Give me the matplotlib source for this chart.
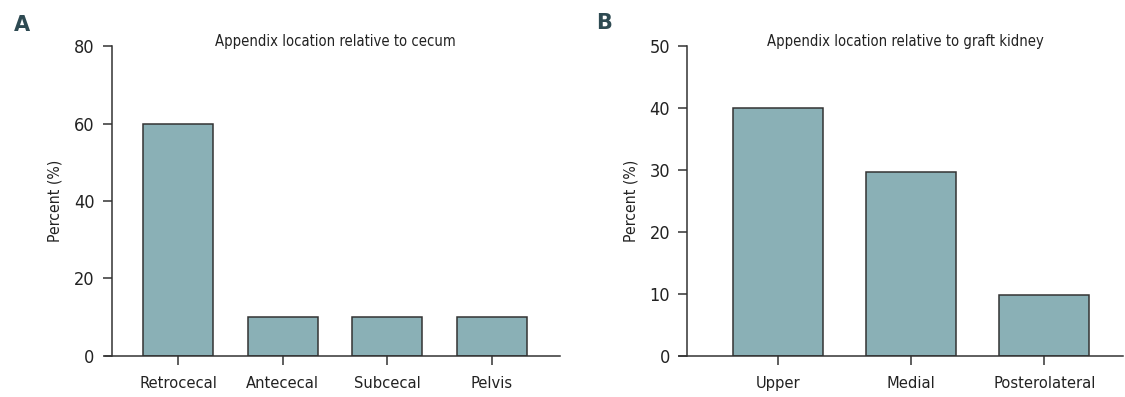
import matplotlib
matplotlib.use("Agg")
import matplotlib.pyplot as plt
import matplotlib.font_manager as fm

# the reference uses a condensed face; take the narrowest one installed
font_name, font_stretch = "DejaVu Sans", "normal"
for wanted in ["LiberationSansNarrow-Regular", "DejaVuSansCondensed.ttf", "Condensed-Regular", "Narrow"]:
    hits = [f for f in fm.fontManager.ttflist if wanted in f.fname and f.style == "normal"]
    if hits:
        font_name, font_stretch = hits[0].name, hits[0].stretch
        break
plt.rcParams['font.family'] = [font_name, 'DejaVu Sans']
plt.rcParams['font.stretch'] = font_stretch

# panel A: location relative to cecum
cecum_labels = ["Retrocecal", "Antececal", "Subcecal", "Pelvis"]
cecum_values = [60, 10, 10, 10]

# panel B: location relative to graft kidney
kidney_labels = ["Upper", "Medial", "Posterolateral"]
kidney_values = [40, 29.6, 9.8]

bar_color = "#8ab0b6"
edge_color = "#333333"
text_color = "#222222"

fig = plt.figure(figsize=(11.25, 3.97), dpi=100)
axA = fig.add_axes([0.0993, 0.1033, 0.3985, 0.7808])
axB = fig.add_axes([0.6111, 0.1033, 0.3871, 0.7808])


def draw_panel(ax, labels, values, title, ymax, step, xlim, width):
    x = range(len(labels))
    ax.bar(x, values, width=width, color=bar_color, edgecolor=edge_color, linewidth=1.1)
    ax.set_xticks(list(x))
    ax.set_xticklabels(labels)
    ax.set_yticks(range(0, ymax + 1, step))
    ax.set_ylim(0, ymax)
    ax.set_xlim(*xlim)
    for side in ["top", "right"]:
        ax.spines[side].set_visible(False)
    for side in ["left", "bottom"]:
        ax.spines[side].set_color(edge_color)
        ax.spines[side].set_linewidth(1.1)
    ax.spines["bottom"].set_bounds(xlim[0] - 0.06, xlim[1])
    ax.tick_params(axis="both", direction="out", length=6.5, width=1.1,
                   color=edge_color, labelcolor=text_color)
    ax.tick_params(axis="y", pad=6, labelsize=13)
    ax.tick_params(axis="x", pad=8, labelsize=11.8)
    ax.set_ylabel("Percent (%)", fontsize=11.3, color=text_color, labelpad=8)
    ax.text(0.5, 1.0, title, transform=ax.transAxes, ha="center", va="baseline",
            fontsize=10.6, color=text_color)


draw_panel(axA, cecum_labels, cecum_values, "Appendix location relative to cecum",
           80, 20, (-0.633, 3.65), 0.67)
draw_panel(axB, kidney_labels, kidney_values, "Appendix location relative to graft kidney",
           50, 10, (-0.68, 2.59), 0.677)

fig.text(0.012, 0.922, "A", fontsize=15, fontweight="bold", color="#2e4a52",
         family="DejaVu Sans", stretch="normal")
fig.text(0.530, 0.927, "B", fontsize=15, fontweight="bold", color="#2e4a52",
         family="DejaVu Sans", stretch="normal")

fig.savefig("out.png", dpi=100)
